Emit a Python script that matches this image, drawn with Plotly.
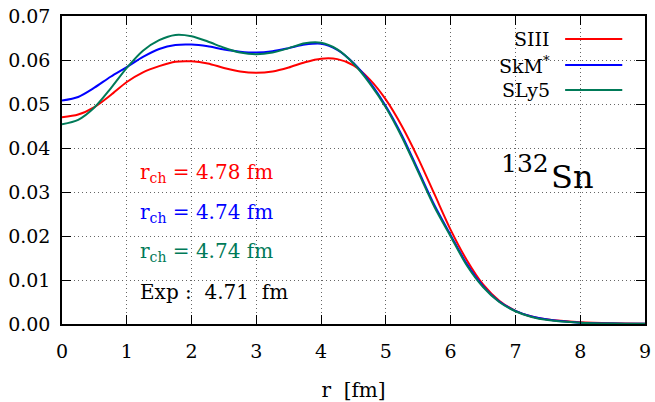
import plotly.graph_objects as go

# radial grid (fm)
r = [0, 0.25, 0.5, 0.75, 1.0, 1.25, 1.5, 1.75, 2.0, 2.25, 2.5, 2.75, 3.0,
     3.25, 3.5, 3.75, 4.0, 4.25, 4.5, 4.75, 5.0, 5.25, 5.5, 5.75, 6.0,
     6.25, 6.5, 6.75, 7.0, 7.25, 7.5, 8.0, 8.5, 9.0]

# charge densities for 132Sn
siii = [0.0470, 0.0476, 0.0493, 0.0520, 0.0550, 0.0572, 0.0586, 0.0596, 0.0597,
        0.0592, 0.0582, 0.0574, 0.0571, 0.0574, 0.0583, 0.0595, 0.0603, 0.0602,
        0.0588, 0.0556, 0.0510, 0.0449, 0.0376, 0.0295, 0.0214, 0.0145, 0.0090,
        0.0053, 0.0030, 0.0017, 0.0010, 0.0004, 0.00015, 0.00005]
skm = [0.0508, 0.0516, 0.0537, 0.0562, 0.0584, 0.0607, 0.0625, 0.0634, 0.0635,
       0.0631, 0.0624, 0.0619, 0.0617, 0.0620, 0.0627, 0.0635, 0.0637, 0.0623,
       0.0593, 0.0550, 0.0495, 0.0428, 0.0349, 0.0270, 0.0202, 0.0136, 0.0086,
       0.0051, 0.0030, 0.0017, 0.0010, 0.0003, 0.0001, 0.00004]
sly5 = [0.0454, 0.0464, 0.0492, 0.0535, 0.0582, 0.0621, 0.0645, 0.0657, 0.0654,
        0.0642, 0.0628, 0.0617, 0.0613, 0.0617, 0.0627, 0.0638, 0.0639, 0.0624,
        0.0592, 0.0547, 0.0492, 0.0424, 0.0345, 0.0266, 0.0199, 0.0133, 0.0084,
        0.0050, 0.0029, 0.0016, 0.0009, 0.0003, 0.0001, 0.00004]

names = ["SIII", "SkM<sup>*</sup>", "SLy5"]
colors = ["#ff0000", "#0000ff", "#007a58"]
radii = ["4.78", "4.74", "4.74"]
exp_radius = "4.71"

x_ticks = list(range(0, 10))
y_ticks = [0.00, 0.01, 0.02, 0.03, 0.04, 0.05, 0.06, 0.07]

FONT = "DejaVu Serif"

fig = go.Figure()
for ys, c in zip([siii, skm, sly5], colors):
    fig.add_trace(go.Scatter(x=r, y=ys, mode="lines",
                             line=dict(color=c, width=2, shape="spline", smoothing=0.8),
                             showlegend=False, hoverinfo="skip"))

# key: labels right-aligned, sample lines to their right
key_y = [0.925, 0.841, 0.760]
for name, c, ky in zip(names, colors, key_y):
    fig.add_annotation(x=0.840, y=ky, xref="paper", yref="paper", text=name,
                       showarrow=False, xanchor="right", yanchor="middle",
                       font=dict(family=FONT, size=19, color="black"))
    fig.add_shape(type="line", xref="paper", yref="paper",
                  x0=0.863, x1=0.961, y0=ky, y1=ky,
                  line=dict(color=c, width=2))

# charge radii
rad_y = [0.490, 0.360, 0.234]
for rv, c, ty in zip(radii, colors, rad_y):
    fig.add_annotation(x=0.130, y=ty, xref="paper", yref="paper",
                       text=f"r<sub>ch</sub> = {rv} fm", showarrow=False,
                       xanchor="left", yanchor="middle",
                       font=dict(family=FONT, size=20, color=c))
fig.add_annotation(x=0.130, y=0.104, xref="paper", yref="paper",
                   text=f"Exp :  {exp_radius}  fm", showarrow=False,
                   xanchor="left", yanchor="middle",
                   font=dict(family=FONT, size=20, color="black"))

# nucleus label: mass number raised before the element symbol
fig.add_annotation(x=0.749, y=0.522, xref="paper", yref="paper",
                   text="132", showarrow=False, xanchor="left", yanchor="middle",
                   font=dict(family=FONT, size=25, color="black"))
fig.add_annotation(x=0.835, y=0.477, xref="paper", yref="paper",
                   text="Sn", showarrow=False, xanchor="left", yanchor="middle",
                   font=dict(family=FONT, size=32, color="black"))

axis_common = dict(showline=True, linecolor="black", linewidth=1.5, mirror="allticks",
                   ticks="inside", ticklen=9, tickcolor="black", tickwidth=1.2,
                   showgrid=True, gridcolor="#666666", gridwidth=1, griddash="1px,3px",
                   zeroline=False, automargin=False,
                   tickfont=dict(family=FONT, size=19, color="black"))

fig.update_xaxes(range=[0, 9], tickvals=x_ticks, ticktext=[str(v) for v in x_ticks],
                 ticklabelstandoff=9,
                 title=dict(text="r  [fm]", font=dict(family=FONT, size=20, color="black"),
                            standoff=22),
                 **axis_common)
fig.update_yaxes(range=[0, 0.07], tickvals=y_ticks, ticktext=[f"{v:.2f}" for v in y_ticks],
                 ticklabelstandoff=6, **axis_common)

fig.update_layout(width=655, height=402, margin=dict(l=62, r=10, t=16, b=78),
                  plot_bgcolor="white", paper_bgcolor="white",
                  font=dict(family=FONT, color="black"))

fig.write_html("out.html")
